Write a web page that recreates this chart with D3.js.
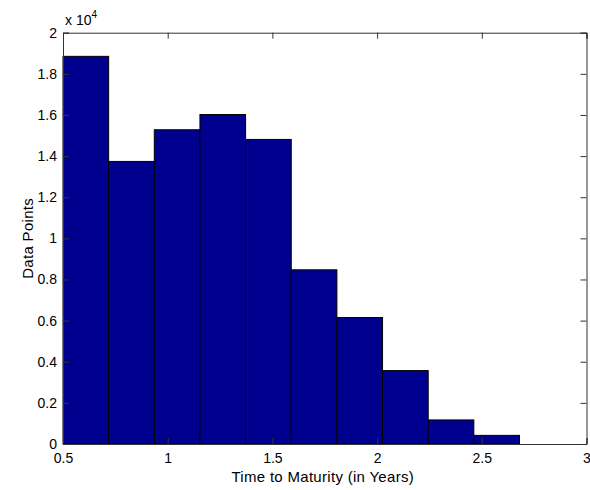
<!DOCTYPE html>
<html>
<head>
<meta charset="utf-8">
<script src="https://cdn.jsdelivr.net/npm/d3@7"></script>
<style>
  html, body { margin: 0; padding: 0; background: #fff; }
  svg text { font-family: "Liberation Sans", Arial, Helvetica, sans-serif; fill: #000; }
</style>
</head>
<body>
<svg id="chart" width="590" height="490"></svg>
<script>
// Histogram of time to maturity: 10 equal bins starting at 0.5 years
const binStart = 0.5;
const binWidth = 0.218;
const counts = [18850, 13740, 15280, 16020, 14810, 8470, 6150, 3570, 1170, 420];
const xTicks = [0.5, 1, 1.5, 2, 2.5, 3];
const yTicks = [0, 0.2, 0.4, 0.6, 0.8, 1, 1.2, 1.4, 1.6, 1.8, 2];
const yScaleFactor = 1e4;

const bins = counts.map((c, i) => ({
  x0: binStart + i * binWidth,
  x1: binStart + (i + 1) * binWidth,
  count: c
}));

const margin = { left: 63, right: 3.5, top: 32.7, bottom: 46 };
const W = 590, H = 490;
const iw = W - margin.left - margin.right;
const ih = H - margin.top - margin.bottom;

const svg = d3.select("#chart");
const g = svg.append("g").attr("transform", `translate(${margin.left},${margin.top})`);

const x = d3.scaleLinear().domain([0.5, 3]).range([0, iw]);
const y = d3.scaleLinear().domain([0, 2]).range([ih, 0]);

// bars
g.selectAll("rect.bar")
  .data(bins)
  .enter().append("rect")
  .attr("class", "bar")
  .attr("x", d => x(d.x0))
  .attr("width", d => x(d.x1) - x(d.x0))
  .attr("y", d => y(d.count / yScaleFactor))
  .attr("height", d => y(0) - y(d.count / yScaleFactor))
  .attr("fill", "#00008f")
  .attr("stroke", "#000")
  .attr("stroke-width", 1);

const tickLen = 6;
const axisColor = "#333";

// box-style axes with inward ticks on all four sides
const axBottom = g.append("g").attr("transform", `translate(0,${ih})`)
  .call(d3.axisBottom(x).tickValues(xTicks).tickSize(-tickLen).tickPadding(9)
    .tickFormat(d3.format("")));
const axTop = g.append("g")
  .call(d3.axisTop(x).tickValues(xTicks).tickSize(-tickLen).tickFormat(""));
const axLeft = g.append("g")
  .call(d3.axisLeft(y).tickValues(yTicks).tickSize(-tickLen).tickPadding(6)
    .tickFormat(d3.format("")));
const axRight = g.append("g").attr("transform", `translate(${iw},0)`)
  .call(d3.axisRight(y).tickValues(yTicks).tickSize(-tickLen).tickFormat(""));

[axBottom, axTop, axLeft, axRight].forEach(a => {
  a.select(".domain").attr("stroke", axisColor).attr("stroke-width", 1);
  a.selectAll(".tick line").attr("stroke", axisColor);
  a.selectAll("text").attr("font-size", 14).attr("fill", "#000")
    .style("font-family", '"Liberation Sans", Arial, sans-serif');
});

// exponent marker above the y axis
const expo = g.append("text")
  .attr("x", 2).attr("y", -7.5)
  .attr("font-size", 14);
expo.append("tspan").text("x 10");
expo.append("tspan").attr("dy", -7).attr("font-size", 10).text("4");

// axis titles
g.append("text")
  .attr("x", x(1.75) - 2).attr("y", ih + 38.5)
  .attr("text-anchor", "middle")
  .attr("font-size", 15)
  .attr("letter-spacing", 0.3)
  .text("Time to Maturity (in Years)");

g.append("text")
  .attr("transform", `translate(${-margin.left + 33},${ih / 2}) rotate(-90)`)
  .attr("text-anchor", "middle")
  .attr("font-size", 15)
  .attr("letter-spacing", 0.3)
  .text("Data Points");
</script>
</body>
</html>
